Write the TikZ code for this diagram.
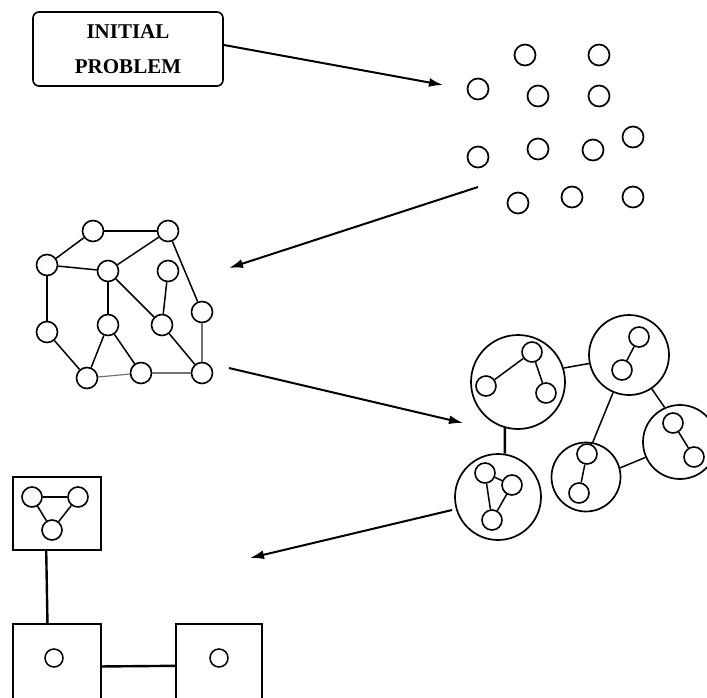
\documentclass[tikz,border=0pt]{standalone}
\usepackage{fontspec}
\setmainfont{Liberation Serif}
\usetikzlibrary{arrows.meta}
\begin{document}
\begin{tikzpicture}[x=1pt,y=-1pt,
  dot/.style={circle,draw,line width=1.7pt,minimum size=21pt,inner sep=0pt},
  vtx/.style={circle,draw,line width=1.6pt,minimum size=21pt,inner sep=0pt},
  sub/.style={circle,draw,line width=1.6pt,minimum size=20pt,inner sep=0pt},
  cluster/.style={circle,draw,line width=1.7pt,inner sep=0pt},
  block/.style={rectangle,draw,line width=2.2pt,inner sep=0pt},
  edge/.style={line width=1.5pt},
  heavy/.style={line width=2.4pt},
  light/.style={line width=1.2pt,black!55},
  flow/.style={line width=2pt,-{Latex[length=14pt,width=9pt]}}]
\useasboundingbox (0,0) rectangle (707,697);
\clip (0,0) rectangle (707,697);

% problem statement
\node[draw,line width=1.6pt,rounded corners=6pt,minimum width=190pt,minimum height=74pt,
      align=center,font=\fontsize{21}{35}\selectfont\bfseries] (init) at (128,49) {INITIAL\\PROBLEM};

% unconnected elements
\foreach \n/\x/\y in {p1/525/55,p2/599/55,p3/478/89,p4/538/96,p5/599/96,p6/633/137,
                      p7/478/157,p8/538/149,p9/593/150,p10/518/203,p11/572/197,p12/633/197}
  \node[dot] (\n) at (\x,\y) {};

% graph of elements
\node[vtx] (ga) at (93,231) {};
\node[vtx] (gb) at (168,231) {};
\node[vtx] (gc) at (47,265) {};
\node[vtx] (gd) at (108,271) {};
\node[vtx] (ge) at (168,271) {};
\node[vtx] (gf) at (202,312) {};
\node[vtx] (gg) at (47,332) {};
\node[vtx] (gh) at (108,325) {};
\node[vtx] (gi) at (162,325) {};
\node[vtx] (gj) at (87,378) {};
\node[vtx] (gk) at (141,373) {};
\node[vtx] (gl) at (202,373) {};
\draw[heavy] (ga) -- (gb);
\draw[heavy] (gc) -- (gg);
\draw[heavy] (gd) -- (gh);
\draw[edge] (ga) -- (gc);
\draw[edge] (gb) -- (gd);
\draw[edge] (gb) -- (gf);
\draw[edge] (gc) -- (gd);
\draw[edge] (gd) -- (gi);
\draw[edge] (ge) -- (gi);
\draw[edge] (gg) -- (gj);
\draw[edge] (gh) -- (gj);
\draw[edge] (gh) -- (gk);
\draw[edge] (gi) -- (gl);
\draw[light] (gf) -- (gl);
\draw[light] (gj) -- (gk);
\draw[light] (gk) -- (gl);

% clustered graph
\node[cluster,minimum size=94pt] (C1) at (518,382) {};
\node[cluster,minimum size=80pt] (C2) at (629,355) {};
\node[cluster,minimum size=74pt] (C3) at (680,442) {};
\node[cluster,minimum size=69pt] (C4) at (586,477) {};
\node[cluster,minimum size=86pt] (C5) at (498,497) {};
\node[sub] (c1a) at (532,352) {};
\node[sub] (c1b) at (486,386) {};
\node[sub] (c1c) at (546,393) {};
\node[sub] (c2a) at (639,337) {};
\node[sub] (c2b) at (622,370) {};
\node[sub] (c3a) at (673,423) {};
\node[sub] (c3b) at (694,457) {};
\node[sub] (c4a) at (587,454) {};
\node[sub] (c4b) at (579,493) {};
\node[sub] (c5a) at (485,473) {};
\node[sub] (c5b) at (512,485) {};
\node[sub] (c5c) at (492,520) {};
\draw[edge] (c1a) -- (c1b);
\draw[edge] (c1a) -- (c1c);
\draw[edge] (c2a) -- (c2b);
\draw[edge] (c3a) -- (c3b);
\draw[edge] (c4a) -- (c4b);
\draw[edge] (c5a) -- (c5b);
\draw[edge] (c5a) -- (c5c);
\draw[edge] (c5b) -- (c5c);
\draw[heavy] (C1.254) -- (C5.81);
\draw[edge] (C1.17) -- (C2.192);
\draw[edge] (C2.-56) -- (C3.114);
\draw[edge] (C2.247) -- (C4.79);
\draw[edge] (C4.15) -- (C3.204);

% final structure
\node[block,minimum width=88pt,minimum height=73pt] (T) at (57,513.5) {};
\node[block,minimum width=88pt,minimum height=96pt] (B1) at (57,672) {};
\node[block,minimum width=86pt,minimum height=96pt] (B2) at (219,672) {};
\node[sub] (t1) at (32,497) {};
\node[sub] (t2) at (78,497) {};
\node[sub] (t3) at (52,530) {};
\node[circle,draw,line width=1.5pt,minimum size=18pt,inner sep=0pt] (b1) at (54,658) {};
\node[circle,draw,line width=1.5pt,minimum size=18pt,inner sep=0pt] (b2) at (219,658) {};
\draw[heavy] (t1) -- (t2);
\draw[edge] (t1) -- (t3);
\draw[edge] (t2) -- (t3);
\draw[heavy] (T.254.7) -- (B1.101.8);
\draw[heavy] (B1.7.8) -- (B2.172);

% transitions between stages
\coordinate (a1s) at (224,45);
\coordinate (a1e) at (443,85);
\coordinate (a2s) at (478,187);
\coordinate (a2e) at (229,268);
\coordinate (a3s) at (229,368);
\coordinate (a3e) at (463,423);
\coordinate (a4s) at (452,510);
\coordinate (a4e) at (250,558);
\draw[flow] (a1s) -- (a1e);
\draw[flow] (a2s) -- (a2e);
\draw[flow] (a3s) -- (a3e);
\draw[flow] (a4s) -- (a4e);
\end{tikzpicture}
\end{document}
